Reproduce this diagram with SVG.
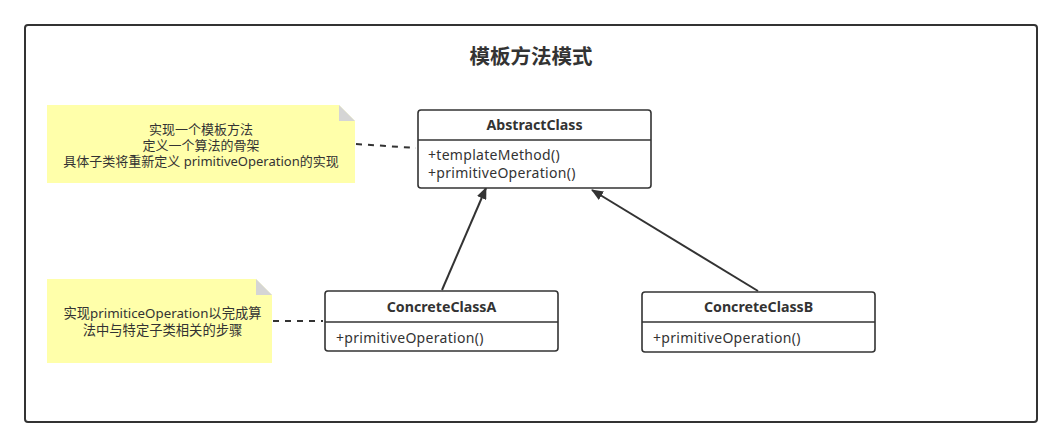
<svg xmlns="http://www.w3.org/2000/svg" width="1062" height="447" viewBox="0 0 1062 447">
<defs>
<style>
text{font-family:"Noto Sans","Noto Sans CJK SC",sans-serif;fill:#333;}
.t{font-size:13px;}
.n2{font-size:13.3px;}
.m{font-size:14px;letter-spacing:0.3px;}
.b{font-size:14.2px;font-weight:bold;}
.title{font-size:20.5px;font-weight:bold;}
.box{fill:#fff;stroke:#333;stroke-width:1.6;}
.div{stroke:#333;stroke-width:1.6;}
.note{fill:#ffffaa;stroke:none;}
.fold{fill:#d5d5d5;}
.dash{stroke:#333;stroke-width:2;stroke-dasharray:6 6;fill:none;}
.gen{stroke:#333;stroke-width:2;fill:none;marker-end:url(#tri);}
</style>
<marker id="tri" viewBox="0 0 12 10" refX="11" refY="5" markerWidth="12" markerHeight="10" markerUnits="userSpaceOnUse" orient="auto">
<path d="M0,0 L12,5 L0,10 z" fill="#333"/>
</marker>
</defs>
<rect width="1062" height="447" fill="#fff"/>
<rect id="frame" x="25" y="25" width="1012" height="397" rx="3" fill="#fff" stroke="#333" stroke-width="2"/>
<text class="title" x="531" y="64" text-anchor="middle">模板方法模式</text>

<g id="connectors">
<line class="dash" x1="356" y1="144" x2="416" y2="148"/>
<line class="dash" x1="273" y1="321" x2="323" y2="321"/>
<line class="gen" x1="442" y1="290" x2="486" y2="188"/>
<line class="gen" x1="758" y1="291" x2="592" y2="190"/>
</g>

<g id="note1">
<path class="note" d="M47,105 H339 L355,121 V183 H47 Z"/>
<path class="fold" d="M339,105 L355,121 H339 Z"/>
<text class="t" x="201" y="134" text-anchor="middle">实现一个模板方法</text>
<text class="t" x="201" y="150" text-anchor="middle">定义一个算法的骨架</text>
<text class="t" x="201" y="166" text-anchor="middle">具体子类将重新定义 primitiveOperation的实现</text>
</g>

<g id="note2">
<path class="note" d="M47,279 H256 L272,295 V363 H47 Z"/>
<path class="fold" d="M256,279 L272,295 H256 Z"/>
<text class="n2" x="162.5" y="318" text-anchor="middle">实现primiticeOperation以完成算</text>
<text class="n2" x="162.5" y="335" text-anchor="middle">法中与特定子类相关的步骤</text>
</g>

<g id="abstractClass">
<rect class="box" x="418" y="110" width="233" height="78" rx="3"/>
<line class="div" x1="418" y1="140" x2="651" y2="140"/>
<text class="b" x="534.5" y="130" text-anchor="middle">AbstractClass</text>
<text class="m" x="428" y="160">+templateMethod()</text>
<text class="m" x="428" y="178">+primitiveOperation()</text>
</g>

<g id="concreteClassA">
<rect class="box" x="325" y="291" width="233" height="60" rx="3"/>
<line class="div" x1="325" y1="322" x2="558" y2="322"/>
<text class="b" x="441.5" y="312" text-anchor="middle">ConcreteClassA</text>
<text class="m" x="336" y="343">+primitiveOperation()</text>
</g>

<g id="concreteClassB">
<rect class="box" x="642" y="292" width="233" height="60" rx="3"/>
<line class="div" x1="642" y1="322" x2="875" y2="322"/>
<text class="b" x="758.5" y="312" text-anchor="middle">ConcreteClassB</text>
<text class="m" x="653" y="343">+primitiveOperation()</text>
</g>
</svg>
